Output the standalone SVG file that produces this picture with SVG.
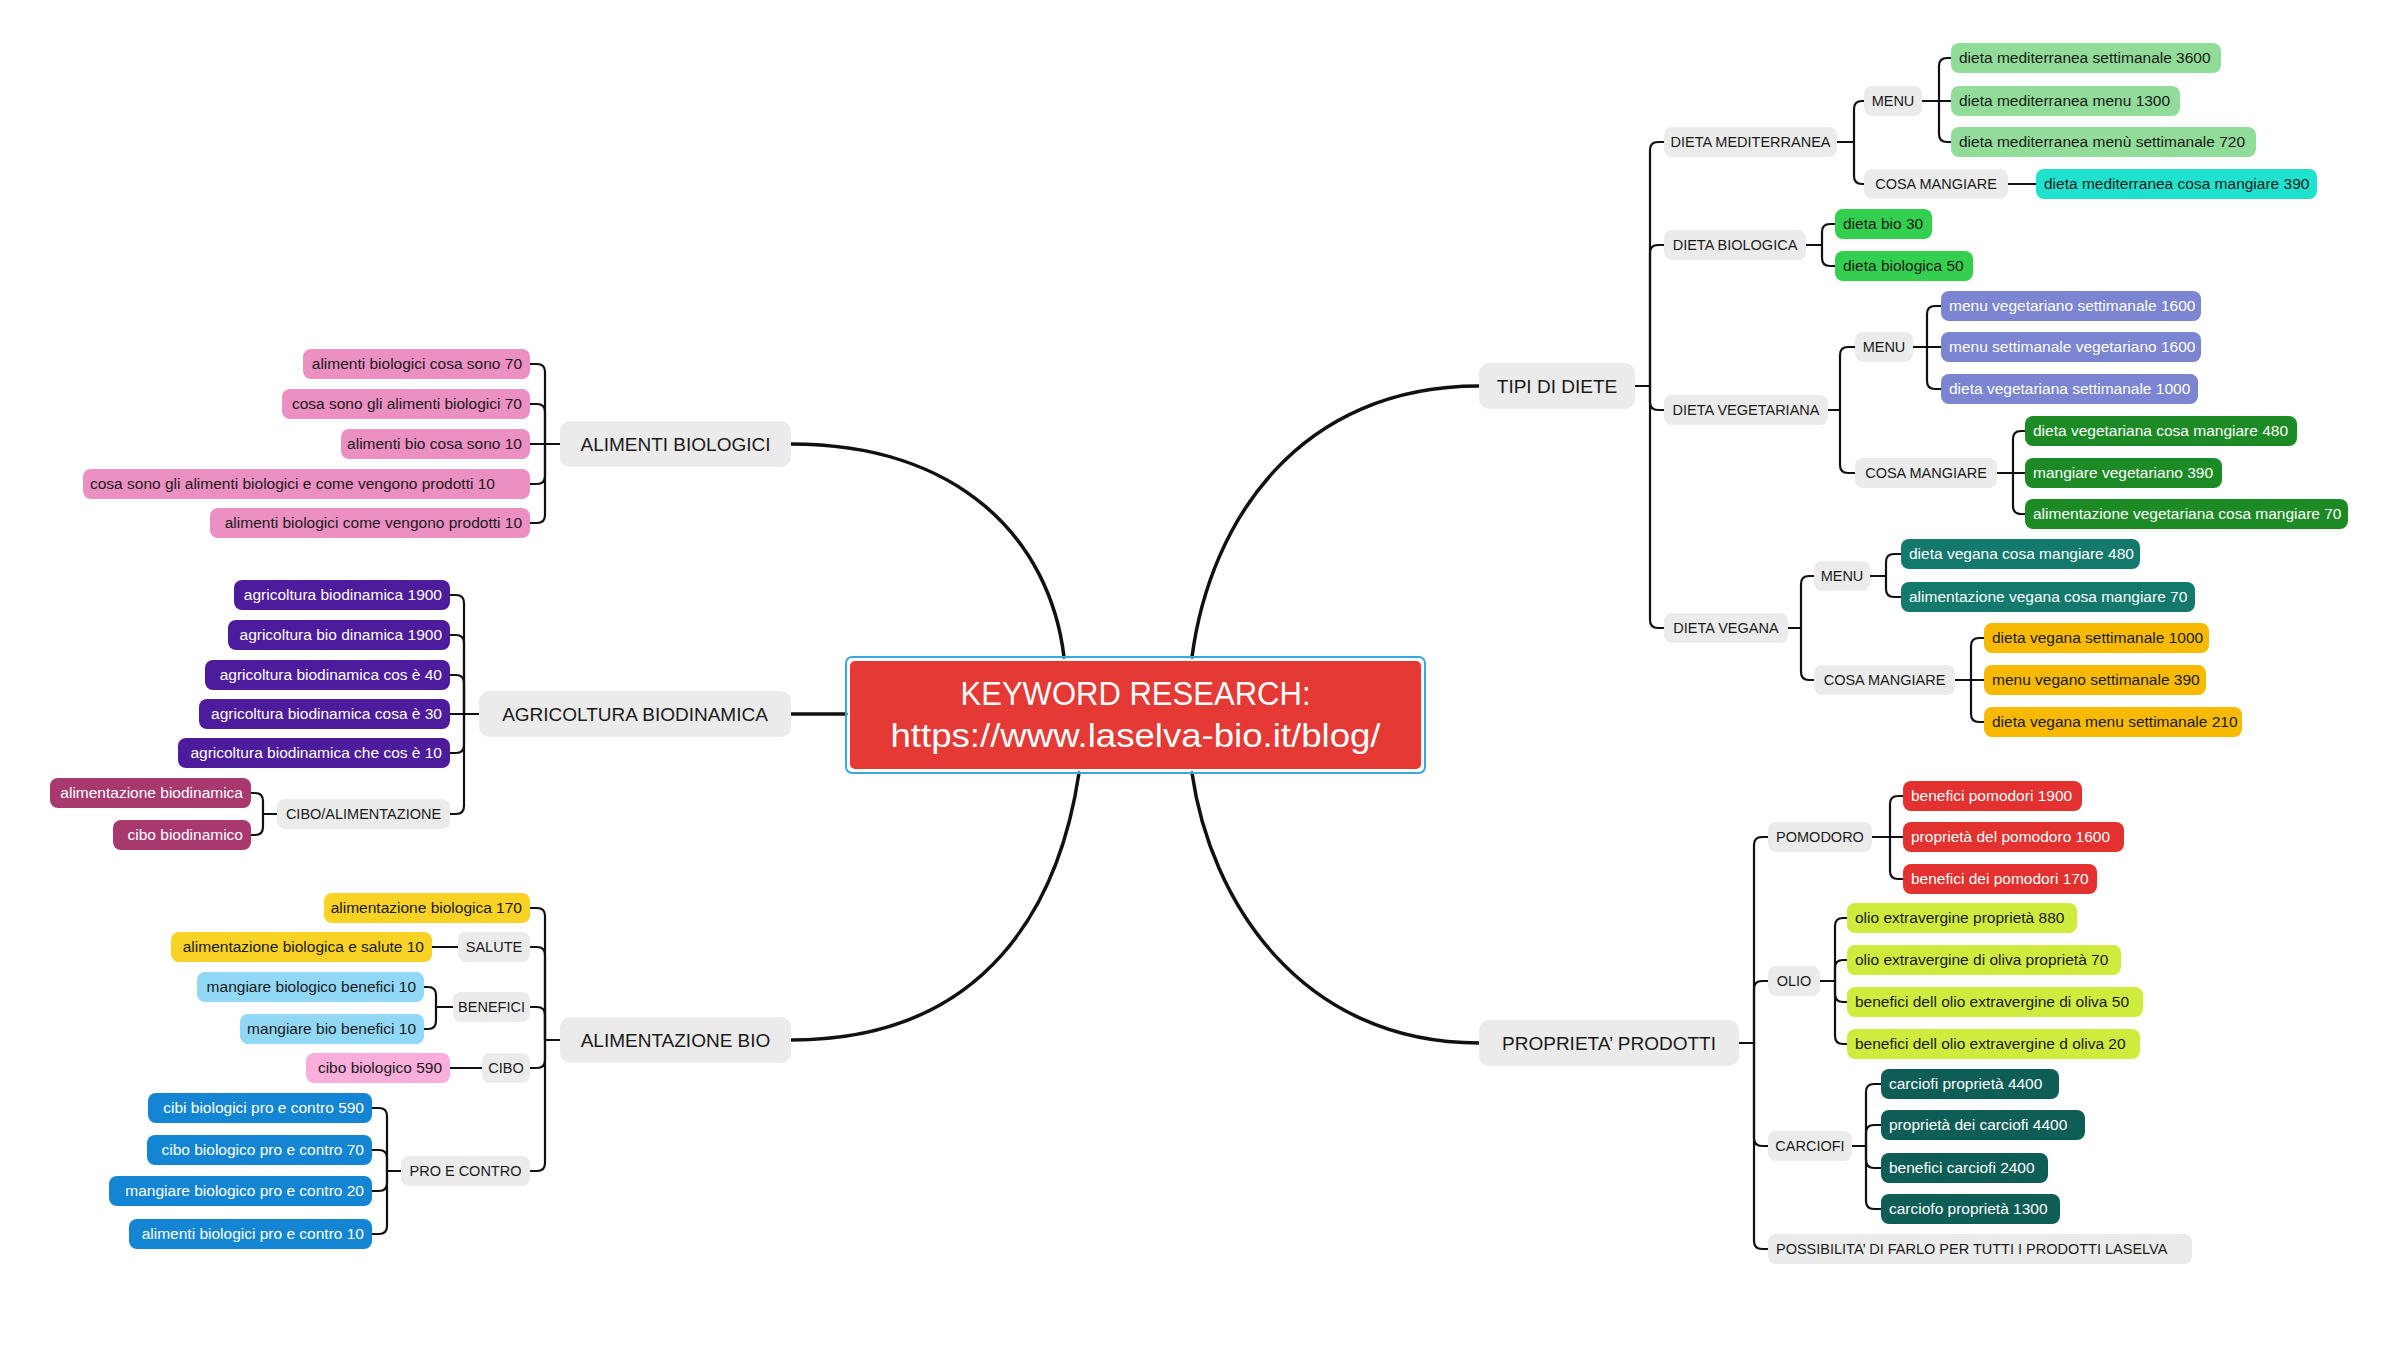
<svg xmlns="http://www.w3.org/2000/svg" width="2400" height="1350" viewBox="0 0 2400 1350">
<style>
text{font-family:"Liberation Sans",Arial,sans-serif;font-size:15.5px;fill:#1a1a1a}
.e{text-anchor:end}
.mid{text-anchor:middle}
.s{font-size:14.5px}
.m{font-size:19px}
.w{fill:#fff}
.g{fill:#ebebeb}
.pk{fill:#ec8fc2}.in{fill:#4c1c9c}.pl{fill:#a8396f}.ye{fill:#f8d224}.lb{fill:#90d8f6}.pp{fill:#f9aedb}.bl{fill:#1385d3}
.lg{fill:#90dc98}.cy{fill:#1ee2cd}.gr{fill:#33d04f}.pw{fill:#7b85d1}.dg{fill:#1c8a25}.tl{fill:#13796d}.am{fill:#f8ba00}
.rd{fill:#e2312e}.li{fill:#cfeb3e}.dt{fill:#0e5d56}
.c path{fill:none;stroke:#111;stroke-width:2.2;stroke-linecap:round;stroke-linejoin:round}
.c path.cm{stroke-width:3.5}
</style>
<rect width="2400" height="1350" fill="#fff"/>
<g id="connectors" class="c">
<path class="cm" d="M791,444 C960,444 1050,540 1064,657"/>
<path class="cm" d="M1192,657 C1210,520 1300,386 1479,386"/>
<path class="cm" d="M1079,773 C1060,900 990,1040 791,1040"/>
<path class="cm" d="M1192,773 C1210,900 1300,1043 1479,1043"/>
<path class="cm" d="M791,714 H846"/>
<path d="M1635,386 H1650"/>
<path d="M1650,386 V150 Q1650,142 1658,142 H1664"/>
<path d="M1650,386 V253 Q1650,245 1658,245 H1664"/>
<path d="M1650,386 V402 Q1650,410 1658,410 H1664"/>
<path d="M1650,386 V620 Q1650,628 1658,628 H1664"/>
<path d="M1837,142 H1854"/>
<path d="M1854,142 V109 Q1854,101 1862,101 H1864"/>
<path d="M1854,142 V176 Q1854,184 1862,184 H1864"/>
<path d="M1922,101 H1939"/>
<path d="M1939,101 V66 Q1939,58 1947,58 H1951"/>
<path d="M1939,101 H1951"/>
<path d="M1939,101 V134 Q1939,142 1947,142 H1951"/>
<path d="M2008,184 H2036"/>
<path d="M1806,245 H1822"/>
<path d="M1822,245 V232 Q1822,224 1830,224 H1835"/>
<path d="M1822,245 V258 Q1822,266 1830,266 H1835"/>
<path d="M1828,410 H1840"/>
<path d="M1840,410 V355 Q1840,347 1848,347 H1855"/>
<path d="M1840,410 V465 Q1840,473 1848,473 H1855"/>
<path d="M1913,347 H1927"/>
<path d="M1927,347 V314 Q1927,306 1935,306 H1941"/>
<path d="M1927,347 H1941"/>
<path d="M1927,347 V381 Q1927,389 1935,389 H1941"/>
<path d="M1997,473 H2013"/>
<path d="M2013,473 V439 Q2013,431 2021,431 H2025"/>
<path d="M2013,473 H2025"/>
<path d="M2013,473 V506 Q2013,514 2021,514 H2025"/>
<path d="M1788,628 H1801"/>
<path d="M1801,628 V584 Q1801,576 1809,576 H1814"/>
<path d="M1801,628 V672 Q1801,680 1809,680 H1814"/>
<path d="M1870,576 H1886"/>
<path d="M1886,576 V562 Q1886,554 1894,554 H1901"/>
<path d="M1886,576 V589 Q1886,597 1894,597 H1901"/>
<path d="M1955,680 H1971"/>
<path d="M1971,680 V646 Q1971,638 1979,638 H1984"/>
<path d="M1971,680 H1984"/>
<path d="M1971,680 V714 Q1971,722 1979,722 H1984"/>
<path d="M1739,1043 H1754"/>
<path d="M1754,1043 V845 Q1754,837 1762,837 H1768"/>
<path d="M1754,1043 V989 Q1754,981 1762,981 H1768"/>
<path d="M1754,1043 V1138 Q1754,1146 1762,1146 H1768"/>
<path d="M1754,1043 V1241 Q1754,1249 1762,1249 H1768"/>
<path d="M1872,837 H1890"/>
<path d="M1890,837 V804 Q1890,796 1898,796 H1903"/>
<path d="M1890,837 H1903"/>
<path d="M1890,837 V871 Q1890,879 1898,879 H1903"/>
<path d="M1820,981 H1835"/>
<path d="M1835,981 V926 Q1835,918 1843,918 H1847"/>
<path d="M1835,981 V968 Q1835,960 1843,960 H1847"/>
<path d="M1835,981 V994 Q1835,1002 1843,1002 H1847"/>
<path d="M1835,981 V1036 Q1835,1044 1843,1044 H1847"/>
<path d="M1852,1146 H1866"/>
<path d="M1866,1146 V1092 Q1866,1084 1874,1084 H1881"/>
<path d="M1866,1146 V1133 Q1866,1125 1874,1125 H1881"/>
<path d="M1866,1146 V1160 Q1866,1168 1874,1168 H1881"/>
<path d="M1866,1146 V1201 Q1866,1209 1874,1209 H1881"/>
<path d="M560,444 H545"/>
<path d="M545,444 V372 Q545,364 537,364 H530"/>
<path d="M545,444 V412 Q545,404 537,404 H530"/>
<path d="M545,444 H530"/>
<path d="M545,444 V476 Q545,484 537,484 H530"/>
<path d="M545,444 V515 Q545,523 537,523 H530"/>
<path d="M479,714 H464"/>
<path d="M464,714 V603 Q464,595 456,595 H450"/>
<path d="M464,714 V643 Q464,635 456,635 H450"/>
<path d="M464,714 V683 Q464,675 456,675 H450"/>
<path d="M464,714 H450"/>
<path d="M464,714 V745 Q464,753 456,753 H450"/>
<path d="M464,714 V806 Q464,814 456,814 H450"/>
<path d="M277,814 H263"/>
<path d="M263,814 V801 Q263,793 255,793 H251"/>
<path d="M263,814 V827 Q263,835 255,835 H251"/>
<path d="M560,1040 H545"/>
<path d="M545,1040 V916 Q545,908 537,908 H530"/>
<path d="M545,1040 V955 Q545,947 537,947 H530"/>
<path d="M545,1040 V1015 Q545,1007 537,1007 H530"/>
<path d="M545,1040 V1060 Q545,1068 537,1068 H530"/>
<path d="M545,1040 V1163 Q545,1171 537,1171 H530"/>
<path d="M458,947 H432"/>
<path d="M453,1007 H436"/>
<path d="M436,1007 V995 Q436,987 428,987 H424"/>
<path d="M436,1007 V1021 Q436,1029 428,1029 H424"/>
<path d="M482,1068 H450"/>
<path d="M401,1171 H387"/>
<path d="M387,1171 V1116 Q387,1108 379,1108 H372"/>
<path d="M387,1171 V1158 Q387,1150 379,1150 H372"/>
<path d="M387,1171 V1183 Q387,1191 379,1191 H372"/>
<path d="M387,1171 V1226 Q387,1234 379,1234 H372"/>
</g>
<g id="central">
<rect x="846" y="657" width="579" height="116" rx="6" fill="none" stroke="#3aa8e0" stroke-width="2"/>
<rect x="850" y="661" width="571" height="108" rx="5" fill="#e53935"/>
<text class="mid w" x="1135.5" y="705" style="font-size:33px" textLength="350" lengthAdjust="spacingAndGlyphs">KEYWORD RESEARCH:</text>
<text class="mid w" x="1135.5" y="747" style="font-size:34px" textLength="490" lengthAdjust="spacingAndGlyphs">https://www.laselva-bio.it/blog/</text>
</g>
<g id="n-tipi"><rect class="g" x="1479" y="363" width="156" height="46" rx="10"/><text class="mid m" x="1557" y="393">TIPI DI DIETE</text></g>
<g id="n-proprieta"><rect class="g" x="1479" y="1020" width="260" height="46" rx="10"/><text class="mid m" x="1609" y="1050">PROPRIETA’ PRODOTTI</text></g>
<g id="n-alimenti"><rect class="g" x="560" y="421" width="231" height="46" rx="10"/><text class="mid m" x="675.5" y="451">ALIMENTI BIOLOGICI</text></g>
<g id="n-agricoltura"><rect class="g" x="479" y="691" width="312" height="46" rx="10"/><text class="mid m" x="635" y="721">AGRICOLTURA BIODINAMICA</text></g>
<g id="n-alimentazione"><rect class="g" x="560" y="1017" width="231" height="46" rx="10"/><text class="mid m" x="675.5" y="1047">ALIMENTAZIONE BIO</text></g>

<g id="n-dmed"><rect class="g" x="1664" y="127" width="173" height="30" rx="8"/><text class="mid s" x="1750.5" y="147">DIETA MEDITERRANEA</text></g>
<g id="n-dmed-menu"><rect class="g" x="1864" y="86" width="58" height="30" rx="8"/><text class="mid s" x="1893" y="106">MENU</text></g>
<g id="n-dmed-cosa"><rect class="g" x="1864" y="169" width="144" height="30" rx="8"/><text class="mid s" x="1936" y="189">COSA MANGIARE</text></g>
<g id="l-dm1"><rect class="lg" x="1951" y="43" width="270" height="30" rx="8"/><text x="1959" y="63">dieta mediterranea settimanale 3600</text></g>
<g id="l-dm2"><rect class="lg" x="1951" y="86" width="229" height="30" rx="8"/><text x="1959" y="106">dieta mediterranea menu 1300</text></g>
<g id="l-dm3"><rect class="lg" x="1951" y="127" width="305" height="30" rx="8"/><text x="1959" y="147">dieta mediterranea menù settimanale 720</text></g>
<g id="l-dm4"><rect class="cy" x="2036" y="169" width="281" height="30" rx="8"/><text x="2044" y="189">dieta mediterranea cosa mangiare 390</text></g>

<g id="n-dbio"><rect class="g" x="1664" y="230" width="142" height="30" rx="8"/><text class="mid s" x="1735" y="250">DIETA BIOLOGICA</text></g>
<g id="l-db1"><rect class="gr" x="1835" y="209" width="97" height="30" rx="8"/><text x="1843" y="229">dieta bio 30</text></g>
<g id="l-db2"><rect class="gr" x="1835" y="251" width="138" height="30" rx="8"/><text x="1843" y="271">dieta biologica 50</text></g>

<g id="n-dveg"><rect class="g" x="1664" y="395" width="164" height="30" rx="8"/><text class="mid s" x="1746" y="415">DIETA VEGETARIANA</text></g>
<g id="n-dveg-menu"><rect class="g" x="1855" y="332" width="58" height="30" rx="8"/><text class="mid s" x="1884" y="352">MENU</text></g>
<g id="n-dveg-cosa"><rect class="g" x="1855" y="458" width="142" height="30" rx="8"/><text class="mid s" x="1926" y="478">COSA MANGIARE</text></g>
<g id="l-dv1"><rect class="pw" x="1941" y="291" width="260" height="30" rx="8"/><text class="w" x="1949" y="311">menu vegetariano settimanale 1600</text></g>
<g id="l-dv2"><rect class="pw" x="1941" y="332" width="260" height="30" rx="8"/><text class="w" x="1949" y="352">menu settimanale vegetariano 1600</text></g>
<g id="l-dv3"><rect class="pw" x="1941" y="374" width="257" height="30" rx="8"/><text class="w" x="1949" y="394">dieta vegetariana settimanale 1000</text></g>
<g id="l-dv4"><rect class="dg" x="2025" y="416" width="272" height="30" rx="8"/><text class="w" x="2033" y="436">dieta vegetariana cosa mangiare 480</text></g>
<g id="l-dv5"><rect class="dg" x="2025" y="458" width="197" height="30" rx="8"/><text class="w" x="2033" y="478">mangiare vegetariano 390</text></g>
<g id="l-dv6"><rect class="dg" x="2025" y="499" width="323" height="30" rx="8"/><text class="w" x="2033" y="519">alimentazione vegetariana cosa mangiare 70</text></g>

<g id="n-dvegana"><rect class="g" x="1664" y="613" width="124" height="30" rx="8"/><text class="mid s" x="1726" y="633">DIETA VEGANA</text></g>
<g id="n-dvegana-menu"><rect class="g" x="1814" y="561" width="56" height="30" rx="8"/><text class="mid s" x="1842" y="581">MENU</text></g>
<g id="n-dvegana-cosa"><rect class="g" x="1814" y="665" width="141" height="30" rx="8"/><text class="mid s" x="1884.5" y="685">COSA MANGIARE</text></g>
<g id="l-vg1"><rect class="tl" x="1901" y="539" width="239" height="30" rx="8"/><text class="w" x="1909" y="559">dieta vegana cosa mangiare 480</text></g>
<g id="l-vg2"><rect class="tl" x="1901" y="582" width="294" height="30" rx="8"/><text class="w" x="1909" y="602">alimentazione vegana cosa mangiare 70</text></g>
<g id="l-vg3"><rect class="am" x="1984" y="623" width="225" height="30" rx="8"/><text x="1992" y="643">dieta vegana settimanale 1000</text></g>
<g id="l-vg4"><rect class="am" x="1984" y="665" width="222" height="30" rx="8"/><text x="1992" y="685">menu vegano settimanale 390</text></g>
<g id="l-vg5"><rect class="am" x="1984" y="707" width="258" height="30" rx="8"/><text x="1992" y="727">dieta vegana menu settimanale 210</text></g>

<g id="n-pomodoro"><rect class="g" x="1768" y="822" width="104" height="30" rx="8"/><text class="mid s" x="1820" y="842">POMODORO</text></g>
<g id="l-po1"><rect class="rd" x="1903" y="781" width="179" height="30" rx="8"/><text class="w" x="1911" y="801">benefici pomodori 1900</text></g>
<g id="l-po2"><rect class="rd" x="1903" y="822" width="221" height="30" rx="8"/><text class="w" x="1911" y="842">proprietà del pomodoro 1600</text></g>
<g id="l-po3"><rect class="rd" x="1903" y="864" width="194" height="30" rx="8"/><text class="w" x="1911" y="884">benefici dei pomodori 170</text></g>
<g id="n-olio"><rect class="g" x="1768" y="966" width="52" height="30" rx="8"/><text class="mid s" x="1794" y="986">OLIO</text></g>
<g id="l-ol1"><rect class="li" x="1847" y="903" width="230" height="30" rx="8"/><text x="1855" y="923">olio extravergine proprietà 880</text></g>
<g id="l-ol2"><rect class="li" x="1847" y="945" width="274" height="30" rx="8"/><text x="1855" y="965">olio extravergine di oliva proprietà 70</text></g>
<g id="l-ol3"><rect class="li" x="1847" y="987" width="296" height="30" rx="8"/><text x="1855" y="1007">benefici dell olio extravergine di oliva 50</text></g>
<g id="l-ol4"><rect class="li" x="1847" y="1029" width="293" height="30" rx="8"/><text x="1855" y="1049">benefici dell olio extravergine d oliva 20</text></g>
<g id="n-carciofi"><rect class="g" x="1768" y="1131" width="84" height="30" rx="8"/><text class="mid s" x="1810" y="1151">CARCIOFI</text></g>
<g id="l-ca1"><rect class="dt" x="1881" y="1069" width="178" height="30" rx="8"/><text class="w" x="1889" y="1089">carciofi proprietà 4400</text></g>
<g id="l-ca2"><rect class="dt" x="1881" y="1110" width="204" height="30" rx="8"/><text class="w" x="1889" y="1130">proprietà dei carciofi 4400</text></g>
<g id="l-ca3"><rect class="dt" x="1881" y="1153" width="167" height="30" rx="8"/><text class="w" x="1889" y="1173">benefici carciofi 2400</text></g>
<g id="l-ca4"><rect class="dt" x="1881" y="1194" width="179" height="30" rx="8"/><text class="w" x="1889" y="1214">carciofo proprietà 1300</text></g>
<g id="n-possibilita"><rect class="g" x="1768" y="1234" width="424" height="30" rx="8"/><text class="s" x="1776" y="1254">POSSIBILITA’ DI FARLO PER TUTTI I PRODOTTI LASELVA</text></g>

<g id="l-ab1"><rect class="pk" x="303" y="349" width="227" height="30" rx="8"/><text class="e" x="522" y="369">alimenti biologici cosa sono 70</text></g>
<g id="l-ab2"><rect class="pk" x="282" y="389" width="248" height="30" rx="8"/><text class="e" x="522" y="409">cosa sono gli alimenti biologici 70</text></g>
<g id="l-ab3"><rect class="pk" x="341" y="429" width="189" height="30" rx="8"/><text class="e" x="522" y="449">alimenti bio cosa sono 10</text></g>
<g id="l-ab4"><rect class="pk" x="83" y="469" width="447" height="30" rx="8"/><text x="90" y="489">cosa sono gli alimenti biologici e come vengono prodotti 10</text></g>
<g id="l-ab5"><rect class="pk" x="210" y="508" width="320" height="30" rx="8"/><text class="e" x="522" y="528">alimenti biologici come vengono prodotti 10</text></g>

<g id="l-ag1"><rect class="in" x="234" y="580" width="216" height="30" rx="8"/><text class="e w" x="442" y="600">agricoltura biodinamica 1900</text></g>
<g id="l-ag2"><rect class="in" x="228" y="620" width="222" height="30" rx="8"/><text class="e w" x="442" y="640">agricoltura bio dinamica 1900</text></g>
<g id="l-ag3"><rect class="in" x="205" y="660" width="245" height="30" rx="8"/><text class="e w" x="442" y="680">agricoltura biodinamica cos è 40</text></g>
<g id="l-ag4"><rect class="in" x="199" y="699" width="251" height="30" rx="8"/><text class="e w" x="442" y="719">agricoltura biodinamica cosa è 30</text></g>
<g id="l-ag5"><rect class="in" x="178" y="738" width="272" height="30" rx="8"/><text class="e w" x="442" y="758">agricoltura biodinamica che cos è 10</text></g>
<g id="n-cibo-alim"><rect class="g" x="277" y="799" width="173" height="30" rx="8"/><text class="mid s" x="363.5" y="819">CIBO/ALIMENTAZIONE</text></g>
<g id="l-ag6"><rect class="pl" x="50" y="778" width="201" height="30" rx="8"/><text class="e w" x="243" y="798">alimentazione biodinamica</text></g>
<g id="l-ag7"><rect class="pl" x="113" y="820" width="138" height="30" rx="8"/><text class="e w" x="243" y="840">cibo biodinamico</text></g>

<g id="l-al1"><rect class="ye" x="324" y="893" width="206" height="30" rx="8"/><text class="e" x="522" y="913">alimentazione biologica 170</text></g>
<g id="n-salute"><rect class="g" x="458" y="932" width="72" height="30" rx="8"/><text class="mid s" x="494" y="952">SALUTE</text></g>
<g id="l-al2"><rect class="ye" x="171" y="932" width="261" height="30" rx="8"/><text class="e" x="424" y="952">alimentazione biologica e salute 10</text></g>
<g id="n-benefici"><rect class="g" x="453" y="992" width="77" height="30" rx="8"/><text class="mid s" x="491.5" y="1012">BENEFICI</text></g>
<g id="l-al3"><rect class="lb" x="197" y="972" width="227" height="30" rx="8"/><text class="e" x="416" y="992">mangiare biologico benefici 10</text></g>
<g id="l-al4"><rect class="lb" x="240" y="1014" width="184" height="30" rx="8"/><text class="e" x="416" y="1034">mangiare bio benefici 10</text></g>
<g id="n-cibo"><rect class="g" x="482" y="1053" width="48" height="30" rx="8"/><text class="mid s" x="506" y="1073">CIBO</text></g>
<g id="l-al5"><rect class="pp" x="306" y="1053" width="144" height="30" rx="8"/><text class="e" x="442" y="1073">cibo biologico 590</text></g>
<g id="n-procontro"><rect class="g" x="401" y="1156" width="129" height="30" rx="8"/><text class="mid s" x="465.5" y="1176">PRO E CONTRO</text></g>
<g id="l-al6"><rect class="bl" x="148" y="1093" width="224" height="30" rx="8"/><text class="e w" x="364" y="1113">cibi biologici pro e contro 590</text></g>
<g id="l-al7"><rect class="bl" x="147" y="1135" width="225" height="30" rx="8"/><text class="e w" x="364" y="1155">cibo biologico pro e contro 70</text></g>
<g id="l-al8"><rect class="bl" x="109" y="1176" width="263" height="30" rx="8"/><text class="e w" x="364" y="1196">mangiare biologico pro e contro 20</text></g>
<g id="l-al9"><rect class="bl" x="129" y="1219" width="243" height="30" rx="8"/><text class="e w" x="364" y="1239">alimenti biologici pro e contro 10</text></g>
</svg>
